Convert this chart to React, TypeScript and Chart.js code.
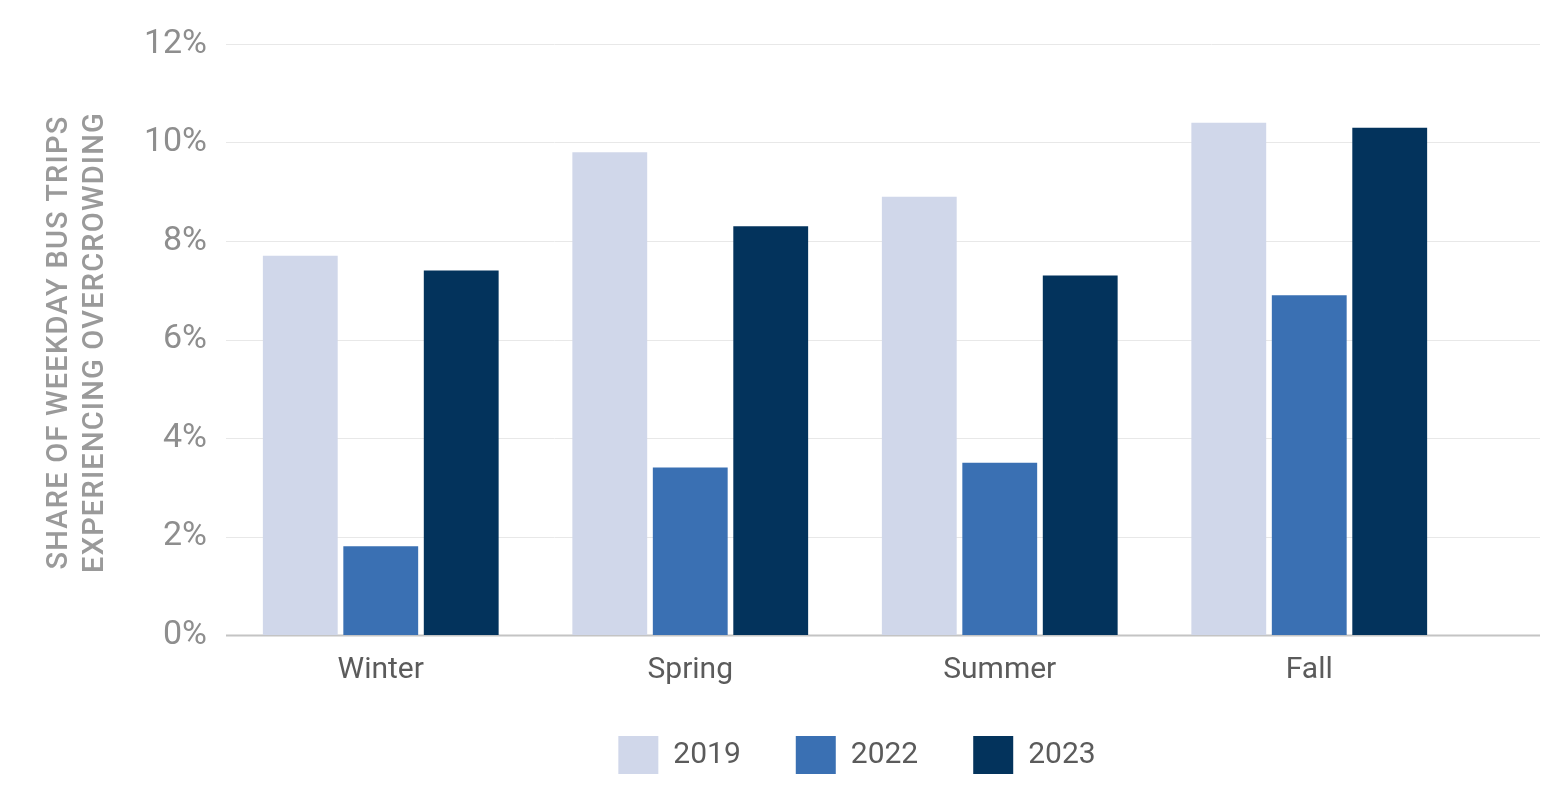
import React, { useEffect, useRef } from "react";
import { Chart, registerables } from "chart.js";

Chart.register(...registerables);

const seasons = ["Winter", "Spring", "Summer", "Fall"];
const years = ["2019", "2022", "2023"];
const share2019 = [7.7, 9.8, 8.9, 10.4];
const share2022 = [1.8, 3.4, 3.5, 6.9];
const share2023 = [7.4, 8.3, 7.3, 10.3];
const yMin = 0;
const yMax = 12;
const yStep = 2;
const titleLines = ["SHARE OF WEEKDAY BUS TRIPS", "EXPERIENCING OVERCROWDING"];
const barColors = ["#d0d7ea", "#3a70b3", "#03335c"];

const FONT = "Roboto, 'Open Sans', sans-serif";

const gridPlugin = {
  id: "extendedGrid",
  beforeDatasetsDraw(chart: any) {
    const { ctx, chartArea, scales } = chart;
    const y = scales.y;
    const right = chart.width - 23;
    ctx.save();
    y.ticks.forEach((t: any) => {
      const py = Math.round(y.getPixelForValue(t.value)) + 0.5;
      ctx.strokeStyle = t.value === 0 ? "#c4c4c4" : "#e8e8e8";
      ctx.lineWidth = t.value === 0 ? 2 : 1;
      ctx.beginPath();
      ctx.moveTo(chartArea.left, py);
      ctx.lineTo(right, py);
      ctx.stroke();
    });
    ctx.restore();
  },
};

const legendShiftPlugin = {
  id: "legendShift",
  afterLayout(chart: any) {
    const lg = chart.legend;
    if (lg) {
      lg.left += 12;
      lg.right += 12;
      lg.top -= 6;
      lg.bottom -= 6;
    }
  },
};

const titlePlugin = {
  id: "yTitle",
  afterDraw(chart: any) {
    const { ctx, chartArea } = chart;
    const cy = (chartArea.top + chartArea.bottom) / 2 + 3;
    ctx.save();
    ctx.fillStyle = "#9a9a9a";
    ctx.font = `500 29px ${FONT}`;
    ctx.textAlign = "center";
    ctx.textBaseline = "middle";
    (ctx as any).letterSpacing = "1.2px";
    titleLines.forEach((line, i) => {
      ctx.save();
      ctx.translate(60 + i * 36, cy);
      ctx.rotate(-Math.PI / 2);
      ctx.fillText(line, 0, 0);
      ctx.restore();
    });
    ctx.restore();
  },
};

export default function App() {
  const ref = useRef<HTMLCanvasElement | null>(null);

  useEffect(() => {
    document.body.style.margin = "0";
    if (!ref.current) return;
    const chart = new Chart(ref.current, {
      type: "bar",
      data: {
        labels: seasons,
        datasets: [share2019, share2022, share2023].map((d, i) => ({
          label: years[i],
          data: d,
          backgroundColor: barColors[i],
          borderWidth: 0,
          categoryPercentage: 0.78,
          barPercentage: 0.93,
        })),
      },
      options: {
        animation: false,
        responsive: false,
        layout: { padding: { top: 44, right: 99, left: 0, bottom: 0 } },
        plugins: {
          tooltip: { enabled: false },
          legend: {
            position: "bottom",
            fullSize: false,
            labels: {
              boxWidth: 40,
              boxHeight: 38,
              padding: 55,
              color: "#5b5b5b",
              font: { family: FONT, size: 30 },
            },
          },
        },
        scales: {
          x: {
            grid: { display: false, drawTicks: false, tickLength: 0 },
            border: { display: false },
            afterFit(scale: any) {
              scale.height = 52;
            },
            ticks: {
              padding: 20,
              color: "#5b5b5b",
              font: { family: FONT, size: 30, lineHeight: 1 },
            },
          },
          y: {
            min: yMin,
            max: yMax,
            grid: { display: false, drawTicks: false, tickLength: 0 },
            border: { display: false },
            afterFit(scale: any) {
              scale.width = 226;
            },
            ticks: {
              stepSize: yStep,
              padding: 19,
              color: "#8e8e8e",
              font: { family: FONT, size: 34 },
              callback: (v: any) => `${v}%`,
            },
          },
        },
      },
      plugins: [gridPlugin, titlePlugin, legendShiftPlugin],
    });
    return () => chart.destroy();
  }, []);

  return (
    <div style={{ width: 1563, height: 790, background: "#fff" }}>
      <canvas ref={ref} width={1563} height={790} />
    </div>
  );
}
